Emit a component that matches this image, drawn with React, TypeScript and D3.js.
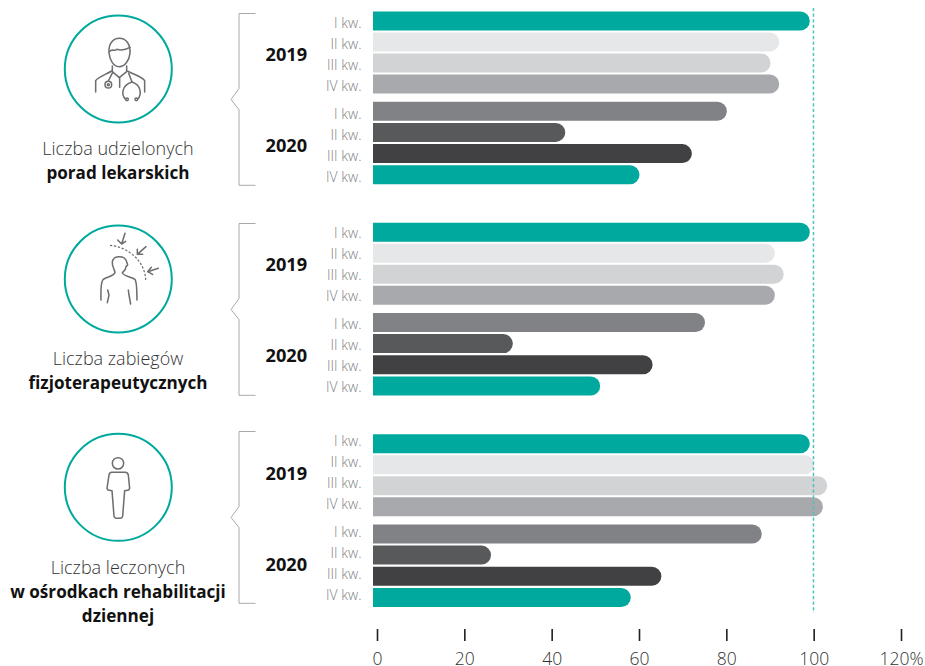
import React from "react";
import * as d3 from "d3";

const quarters = ["I kw.", "II kw.", "III kw.", "IV kw."];
const years = ["2019", "2020"];
const tickValues = [0, 20, 40, 60, 80, 100, 120];
const teal = "#00A99D";
const barColors = ["#00A99D", "#E6E7E8", "#D1D3D4", "#A7A9AC", "#808285", "#58595B", "#414042", "#00A99D"];

const poradValues = [99, 92, 90, 92, 80, 43, 72, 60];
const zabiegiValues = [99, 91, 93, 91, 75, 31, 63, 51];
const leczeniValues = [99, 100, 103, 102, 88, 26, 65, 58];

const panels = [
  { values: poradValues, barTop: 0, labelTop: 0, normal: ["Liczba udzielonych"], bold: ["porad lekarskich"], circleY: 69, bracketTop: 13.5, textY: 155, yearY: [61, 152], icon: "doctor" },
  { values: zabiegiValues, barTop: 211.2, labelTop: 210, normal: ["Liczba zabiegów"], bold: ["fizjoterapeutycznych"], circleY: 279, bracketTop: 223.5, textY: 365, yearY: [271, 362], icon: "body" },
  { values: leczeniValues, barTop: 422.7, labelTop: 418, normal: ["Liczba leczonych"], bold: ["w ośrodkach rehabilitacji", "dziennej"], circleY: 487.3, bracketTop: 431.5, textY: 574, yearY: [479.5, 570.7], icon: "person" },
];

const barSlots = [21, 42, 63, 84, 111.3, 132.4, 153.6, 174.8];
const labelSlots = [28, 49, 70, 91, 119, 140, 161, 182];

const x = d3.scaleLinear().domain([0, 120]).range([377.5, 901.5]);
const barLeft = 373;
const barHeight = 19;

function barPath(value: number, cy: number) {
  const r = barHeight / 2;
  const right = x(value);
  const p = d3.path();
  p.moveTo(barLeft, cy - r);
  p.lineTo(right - r, cy - r);
  p.arc(right - r, cy, r, -Math.PI / 2, Math.PI / 2);
  p.lineTo(barLeft, cy + r);
  p.closePath();
  return p.toString();
}

function bracketPath(top: number) {
  const p = d3.path();
  p.moveTo(255.5, top);
  p.lineTo(239, top);
  p.lineTo(239, top + 75);
  p.lineTo(231, top + 86);
  p.lineTo(239, top + 96);
  p.lineTo(239, top + 171.8);
  p.lineTo(255.5, top + 171.8);
  return p.toString();
}

function Icon({ kind }: { kind: string }) {
  const common = { fill: "none", stroke: "#6D6E71", strokeWidth: 4.6, strokeLinecap: "round" as const, strokeLinejoin: "round" as const };
  if (kind === "doctor") {
    return (
      <g transform="translate(60,10) scale(0.3333)" {...common}>
        <path d="M147 128 C145 100 160 85 178 85 C200 85 212 105 210 130 C208 150 195 170 178 170 C160 170 149 150 147 128 Z" />
        <path d="M148 125 C155 115 165 125 170 118 C185 122 200 118 210 112" />
        <path d="M157 168 L157 185 L178 203 L200 185 L200 168" />
        <path d="M107 246 L107 212 C115 200 135 195 155 183" />
        <path d="M254 246 L254 212 C245 200 225 195 202 183" />
        <path d="M179 203 L179 232" />
        <path d="M158 187 L145 213" />
        <circle cx="145" cy="224" r="10" />
        <circle cx="145" cy="224" r="3" />
        <path d="M206 190 L216 216" />
        <path d="M197 268 C183 255 185 225 216 216 C245 225 245 255 233 268" />
        <circle cx="201" cy="268" r="4" />
        <circle cx="229" cy="268" r="4" />
      </g>
    );
  }
  if (kind === "body") {
    return (
      <g transform="translate(60,220) scale(0.3333)" {...common}>
        <path d="M123 240 C122 210 122 185 130 178 C140 170 160 170 165 158 C165 150 155 140 157 125 C160 105 195 105 200 125 L203 135 L198 140 C198 150 190 155 187 158 C190 170 215 170 225 178 C232 190 230 215 231 240" />
        <path d="M143 210 L147 225 L142 248" />
        <path d="M205 210 L207 225 L212 252" />
        <path d="M150 76 C200 80 255 120 257 180" strokeDasharray="7 5" strokeLinecap="butt" strokeWidth={3.6} />
        <path d="M195 40 L185 72 M173 60 L185 72 L197 64" />
        <path d="M258 80 L232 103 M232 88 L232 103 L248 103" />
        <path d="M295 145 L263 155 M274 142 L263 155 L278 163" />
      </g>
    );
  }
  return (
    <g transform="translate(60,430) scale(0.3333)" {...common}>
      <circle cx="174" cy="100" r="17" />
      <path d="M155 127 L195 127 Q203 127 205 135 L209 175 L206 180 L194 182 L188 258 Q187 265 180 265 L170 265 Q163 265 162 258 L156 182 L144 180 L141 175 L147 135 Q149 127 155 127 Z" />
    </g>
  );
}

export default function App() {
  const font = "'Open Sans', sans-serif";
  return (
    <svg width={925} height={666} style={{ position: "absolute", left: 0, top: 0, background: "#fff" }} fontFamily={font}>
      {panels.map((panel, pi) => (
        <g key={pi}>
          <circle cx={118.3} cy={panel.circleY} r={53.5} fill="none" stroke={teal} strokeWidth={2} />
          <Icon kind={panel.icon} />
          {panel.normal.map((t, i) => (
            <text key={t} x={118} y={panel.textY + i * 24} textAnchor="middle" fontSize={18} fontWeight={300} fill="#333">{t}</text>
          ))}
          {panel.bold.map((t, i) => (
            <text key={t} x={118} y={panel.textY + (i + 1) * 24} textAnchor="middle" fontSize={17.1} fontWeight={700} fill="#111">{t}</text>
          ))}
          <path d={bracketPath(panel.bracketTop)} fill="none" stroke="#A7A9AC" strokeWidth={1} />
          {years.map((y, i) => (
            <text key={y} x={286.3} y={panel.yearY[i]} textAnchor="middle" fontSize={18.2} fontWeight={700} fill="#111">{y}</text>
          ))}
          {panel.values.map((v, i) => (
            <g key={i}>
              <path d={barPath(v, panel.barTop + barSlots[i])} fill={barColors[i]} />
              <text x={361.5} y={panel.labelTop + labelSlots[i]} textAnchor="end" fontSize={14} fontWeight={300} fill="#808285">{quarters[i % 4]}</text>
            </g>
          ))}
        </g>
      ))}
      <line x1={x(100) - 0.7} x2={x(100) - 0.7} y1={8} y2={613} stroke="#4DC3BB" strokeWidth={1.5} strokeDasharray="3.2 2.4" />
      {tickValues.map((t) => (
        <g key={t}>
          <line x1={x(t)} x2={x(t)} y1={629} y2={641} stroke="#231F20" strokeWidth={1.6} />
          <text x={x(t)} y={665} textAnchor="middle" fontSize={17.5} fontWeight={300} fill="#333">{t === 120 ? "120%" : t}</text>
        </g>
      ))}
    </svg>
  );
}
